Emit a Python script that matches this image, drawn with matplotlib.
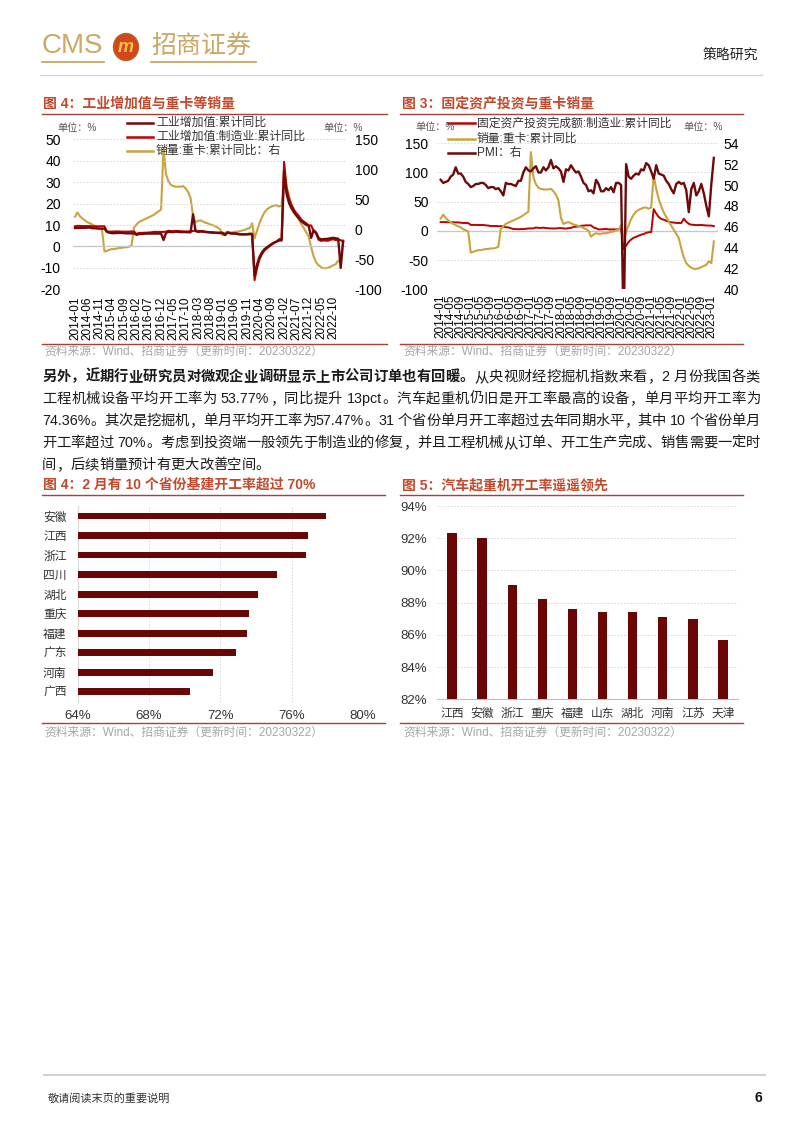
import matplotlib
matplotlib.use('Agg')
import matplotlib.pyplot as plt
from matplotlib.patches import Ellipse
from matplotlib.lines import Line2D

plt.rcParams['font.family'] = ['Liberation Sans', 'Noto Sans CJK SC', 'DejaVu Sans']
plt.rcParams['axes.unicode_minus'] = False

# ---------------- data ----------------
# monthly, 2014-01 .. 2023-02
iva = [8.6, 8.6, 8.7, 8.7, 8.7, 8.8, 8.8, 8.5, 8.5, 8.4, 8.3, 8.3,
       8.3, 6.8, 6.4, 6.2, 6.2, 6.3, 6.3, 6.3, 6.2, 6.1, 6.1, 6.1,
       6.1, 5.4, 5.8, 5.8, 5.9, 6.0, 6.0, 6.0, 6.0, 6.0, 6.0, 6.0,
       3.0, 6.3, 6.8, 6.7, 6.7, 6.9, 6.8, 6.7, 6.7, 6.7, 6.6, 6.6,
       15.0, 7.2, 6.8, 6.9, 6.9, 6.7, 6.6, 6.5, 6.4, 6.4, 6.3, 6.2,
       6.2, 5.3, 6.5, 6.2, 6.0, 6.0, 5.8, 5.6, 5.6, 5.6, 5.6, 5.7,
       5.7, -13.5, -8.4, -4.9, -2.8, -1.3, -0.4, 0.4, 1.2, 1.8, 2.3, 2.8,
       2.8, 35.1, 24.5, 20.3, 17.8, 15.9, 14.4, 13.1, 11.8, 10.9, 10.1, 9.6,
       4.0, 7.5, 6.5, 4.0, 3.3, 3.4, 3.5, 3.6, 3.9, 4.0, 3.8, 3.6,
       -10.0, 2.4]
mva = [9.4, 9.6, 9.6, 9.5, 9.5, 9.5, 9.5, 9.4, 9.4, 9.4, 9.4, 9.4,
       9.4, 7.0, 6.9, 6.9, 7.0, 7.0, 7.0, 6.9, 6.9, 6.9, 6.9, 7.0,
       7.0, 5.8, 6.3, 6.3, 6.4, 6.4, 6.5, 6.6, 6.8, 6.8, 6.8, 6.8,
       6.8, 6.9, 7.3, 7.2, 7.1, 7.2, 7.2, 7.1, 7.0, 7.0, 7.0, 7.2,
       7.2, 7.5, 7.1, 7.2, 7.2, 6.9, 6.8, 6.7, 6.6, 6.5, 6.4, 6.5,
       6.5, 5.6, 6.5, 6.1, 6.0, 6.2, 6.0, 5.8, 5.7, 5.7, 5.8, 6.0,
       6.0, -15.7, -10.2, -6.0, -3.6, -1.9, -0.9, 0.0, 0.9, 1.7, 2.3, 3.4,
       3.4, 39.5, 27.3, 22.2, 19.3, 17.1, 15.5, 14.2, 12.5, 11.6, 10.8, 9.8,
       9.8, 7.3, 6.2, 3.1, 2.6, 2.8, 2.7, 2.7, 3.2, 3.3, 3.0, 3.0,
       3.0, 2.1]
truck = [21, 28, 22, 18, 15, 12, 10, 8, 6, 3, 1, -1,
         -37, -36, -34, -33, -33, -32, -31, -31, -30, -30, -29, -27,
         3, 8, 12, 14, 16, 18, 20, 22, 24, 27, 30, 33,
         135, 92, 80, 74, 72, 71, 71, 71, 72, 68, 62, 52,
         22, 12, 14, 15, 13, 11, 10, 8, 7, 5, 3, 0,
         -10, -6, -4, -5, -5, -4, -4, -3, -2, -1, 1, 2,
         10, -15, -2, 10, 20, 28, 33, 36, 38, 40, 40, 38,
         40, 95, 72, 55, 42, 32, 24, 16, 9, 2, -5, -12,
         -30, -45, -55, -60, -63, -65, -65, -64, -62, -60, -58, -52,
         -55, -18]
fai = [15.1, 15.1, 15.0, 14.8, 14.8, 14.8, 14.6, 14.5, 14.0, 13.6, 13.5, 13.5,
       10.2, 10.2, 10.4, 10.0, 10.1, 10.1, 9.5, 9.1, 8.3, 8.3, 8.4, 8.1,
       8.1, 7.5, 6.4, 6.0, 4.6, 3.3, 3.1, 2.8, 3.1, 3.1, 3.6, 4.2,
       4.2, 4.3, 5.8, 5.2, 5.1, 5.5, 4.9, 4.5, 4.2, 4.1, 4.1, 4.8,
       4.8, 4.3, 3.8, 4.8, 5.2, 6.8, 7.3, 7.5, 8.7, 9.1, 9.5, 9.5,
       9.5, 5.9, 4.6, 2.5, 2.7, 3.0, 3.3, 2.6, 2.5, 2.6, 2.5, 3.1,
       3.1, -31.5, -25.2, -18.8, -14.8, -11.7, -10.2, -8.1, -6.5, -5.3, -3.5, -2.2,
       -2.2, 37.3, 29.8, 23.8, 20.4, 19.2, 17.3, 15.7, 14.8, 14.2, 13.7, 13.5,
       13.5, 20.9, 15.6, 12.2, 10.6, 10.4, 9.9, 10.0, 10.1, 9.7, 9.3, 9.1,
       9.1, 8.1]
pmi = [50.5, 50.2, 50.3, 50.4, 50.8, 51.0, 51.7, 51.1, 51.1, 50.8, 50.3, 50.1,
       49.8, 49.9, 50.1, 50.1, 50.2, 50.2, 50.0, 49.7, 49.8, 49.8, 49.6, 49.7,
       49.4, 49.0, 50.2, 50.1, 50.1, 50.0, 49.9, 50.4, 50.4, 51.2, 51.7, 51.4,
       51.3, 51.6, 51.8, 51.2, 51.2, 51.7, 51.4, 51.7, 52.4, 51.6, 51.8, 51.6,
       51.3, 50.3, 51.5, 51.4, 51.9, 51.5, 51.2, 51.3, 50.8, 50.2, 50.0, 49.4,
       49.5, 49.2, 50.5, 50.1, 49.4, 49.4, 49.7, 49.5, 49.8, 49.3, 50.2, 50.2,
       50.0, 35.7, 52.0, 50.8, 50.6, 50.9, 51.1, 51.0, 51.5, 51.4, 52.1, 51.9,
       51.3, 50.6, 51.9, 51.1, 51.0, 50.9, 50.4, 50.1, 49.6, 49.2, 50.1, 50.3,
       50.1, 50.2, 49.5, 47.4, 49.6, 50.2, 49.0, 49.4, 50.1, 49.2, 48.0, 47.0,
       50.1, 52.6]

prov_infra = ['安徽', '江西', '浙江', '四川', '湖北', '重庆', '福建', '广东', '河南', '广西']
rate_infra = [77.9, 76.9, 76.8, 75.2, 74.1, 73.6, 73.5, 72.9, 71.6, 70.3]
prov_crane = ['江西', '安徽', '浙江', '重庆', '福建', '山东', '湖北', '河南', '江苏', '天津']
rate_crane = [92.3, 92.0, 89.1, 88.2, 87.6, 87.4, 87.4, 87.1, 87.0, 85.7]

months = ['%d-%02d' % (2014 + i // 12, i % 12 + 1) for i in range(len(iva))]

# ---------------- layout helpers ----------------
W, H = 802, 1133
fig = plt.figure(figsize=(W / 100, H / 100), dpi=100)


def rect(x0, y0, x1, y1):
    return [x0 / W, 1 - y1 / H, (x1 - x0) / W, (y1 - y0) / H]


def fx(x):
    return x / W


def fy(y):
    return 1 - y / H


def hline(x0, x1, y, color, lw):
    fig.add_artist(Line2D([fx(x0), fx(x1)], [fy(y), fy(y)],
                          transform=fig.transFigure, color=color, lw=lw))


def ftext(x, y, s, **kw):
    kw.setdefault('va', 'center')
    kw.setdefault('ha', 'left')
    return fig.text(fx(x), fy(y), s, **kw)


DARK = '#6E0A0A'
RED = '#C00000'
GOLD = '#C9A43E'
BAR = '#6A0606'
TITLE = '#C4492C'
RULE = '#A8403A'
SRC = '#A6A6A6'
GRID = '#D4D4D4'

# ---------------- header ----------------
GOLDH = '#CDA766'
ftext(42, 46, 'CMS', fontsize=20, color=GOLDH)
hline(42, 104, 62, GOLDH, 1.3)
fig.add_artist(Ellipse((fx(126), fy(47)), 25 / W, 27 / H, transform=fig.transFigure,
                       facecolor='#D4471E', edgecolor='#B5651D', lw=1.0))
ftext(126, 47, 'm', fontsize=13, color='#F6C543', weight='bold', style='italic', ha='center')
ftext(151, 46, '招商证券', fontsize=18, color=GOLDH)
hline(151, 256, 62, GOLDH, 1.3)
ftext(758, 55, '策略研究', fontsize=10, color='#222222', ha='right')
hline(40, 762, 75, '#DCD2C8', 1.0)

# ---------------- titles and rules ----------------
title_kw = dict(fontsize=10, weight='bold', color=TITLE)
ftext(43, 104, '图 4：工业增加值与重卡等销量', **title_kw)
ftext(402, 104, '图 3：固定资产投资与重卡销量', **title_kw)
ftext(43, 485, '图 4：2 月有 10 个省份基建开工率超过 70%', **title_kw)
ftext(402, 485, '图 5：汽车起重机开工率遥遥领先', **title_kw)
hline(42, 387, 114, RULE, 1.0)
hline(400, 743, 114, RULE, 1.0)
hline(42, 385, 495, RULE, 1.0)
hline(400, 743, 495, RULE, 1.0)
hline(42, 387, 344, RULE, 1.0)
hline(400, 743, 344, RULE, 1.0)
hline(42, 385, 723, RULE, 1.0)
hline(400, 743, 723, RULE, 1.0)
src = '资料来源：Wind、招商证券（更新时间：20230322）'
for x, y in [(44, 352), (403, 352), (44, 733), (403, 733)]:
    ftext(x, y, src, fontsize=8.5, color=SRC)

unit_kw = dict(fontsize=7.3, color='#555555')
ftext(57, 128, '单位：%', **unit_kw)
ftext(323, 128, '单位：%', **unit_kw)
ftext(415, 127, '单位：%', **unit_kw)
ftext(683, 127, '单位：%', **unit_kw)

# ---------------- chart 1 ----------------
x = list(range(len(iva)))
ax1 = fig.add_axes(rect(72.5, 139.3, 345.6, 289.3))
ax1r = ax1.twinx()
ax1.set_zorder(ax1r.get_zorder() + 1)
ax1.patch.set_visible(False)
ax1r.plot(x, truck, color=GOLD, lw=1.5)
ax1.plot(x, mva, color=RED, lw=1.5)
ax1.plot(x, iva, color=DARK, lw=1.7)
ax1.set_xlim(-1, 110)
ax1.set_ylim(-20, 50)
ax1r.set_ylim(-100, 150)
ax1.set_yticks(range(-20, 51, 10))
ax1r.set_yticks(range(-100, 151, 50))
ax1.set_xticks(x[::5])
ax1.set_xticklabels(months[::5], rotation=90, fontsize=8.5)
for a in (ax1, ax1r):
    for s in a.spines.values():
        s.set_visible(False)
ax1.tick_params(axis='y', length=0, pad=8.5, labelsize=10)
ax1r.tick_params(axis='y', length=0, pad=6.5, labelsize=10)
ax1.tick_params(axis='x', length=0, pad=5)
ax1.grid(axis='y', color=GRID, lw=0.6, ls=(0, (2, 2)))
ax1.axhline(0, color='#BFBFBF', lw=0.9, zorder=0.5)

# legend 1
for yy, c, lab in [(123, DARK, '工业增加值:累计同比'), (137, RED, '工业增加值:制造业:累计同比'),
                   (150.5, GOLD, '销量:重卡:累计同比：右')]:
    hline(127, 153, yy, c, 1.8)
    ftext(156, yy, lab, fontsize=8.6, color='#333333')

# ---------------- chart 2 ----------------
ax2 = fig.add_axes(rect(436.9, 143.3, 717.6, 289.3))
ax2r = ax2.twinx()
ax2.plot(x, fai, color=RED, lw=1.4)
ax2.plot(x, truck, color=GOLD, lw=1.5)
ax2r.plot(x, pmi, color=DARK, lw=1.7)
ax2.set_xlim(-1.5, 110.5)
ax2.set_ylim(-100, 150)
ax2r.set_ylim(40, 54)
ax2.set_yticks(range(-100, 151, 50))
ax2r.set_yticks(range(40, 55, 2))
ax2.set_xticks(x[::4])
ax2.set_xticklabels(months[::4], rotation=90, fontsize=8.5)
for a in (ax2, ax2r):
    for s in a.spines.values():
        s.set_visible(False)
ax2.tick_params(axis='y', length=0, pad=6, labelsize=10)
ax2r.tick_params(axis='y', length=0, pad=4, labelsize=10)
ax2.tick_params(axis='x', length=0, pad=4)
ax2.grid(axis='y', color=GRID, lw=0.6, ls=(0, (2, 2)))
ax2.axhline(0, color='#BFBFBF', lw=0.9, zorder=0.5)

for yy, c, lab in [(123.3, RED, '固定资产投资完成额:制造业:累计同比'), (139, GOLD, '销量:重卡:累计同比'),
                   (153.3, DARK, 'PMI：右')]:
    hline(448, 475, yy, c, 1.8)
    ftext(477, yy, lab, fontsize=8.5, color='#333333')

# ---------------- chart 3 ----------------
ax3 = fig.add_axes(rect(77.7, 506.2, 363, 701.5))
pos3 = list(range(len(prov_infra)))
ax3.barh(pos3, rate_infra, height=0.35, color=BAR, left=0, zorder=3)
ax3.set_xlim(64, 80)
ax3.set_ylim(9.5, -0.5)
ax3.set_yticks(pos3)
ax3.set_yticklabels(prov_infra, fontsize=8.5, color='#333333')
ax3.set_xticks([64, 68, 72, 76, 80])
ax3.set_xticklabels(['64%', '68%', '72%', '76%', '80%'], fontsize=9.5, color='#333333')
for s in ax3.spines.values():
    s.set_visible(False)
ax3.spines['left'].set_visible(True)
ax3.spines['left'].set_color('#D9D9D9')
ax3.tick_params(axis='y', length=0, pad=8)
ax3.tick_params(axis='x', length=0, pad=6)
ax3.grid(axis='x', color=GRID, lw=0.6, ls=(0, (2, 2)))

# ---------------- chart 4 ----------------
ax4 = fig.add_axes(rect(437, 506, 738, 699.3))
pos4 = list(range(len(prov_crane)))
ax4.bar(pos4, rate_crane, width=0.31, color=BAR, zorder=3)
ax4.set_xlim(-0.5, 9.5)
ax4.set_ylim(82, 94)
ax4.set_yticks(range(82, 95, 2))
ax4.set_yticklabels(['%d%%' % v for v in range(82, 95, 2)], fontsize=9.5, color='#333333')
ax4.set_xticks(pos4)
ax4.set_xticklabels(prov_crane, fontsize=8.5, color='#333333')
for s in ax4.spines.values():
    s.set_visible(False)
ax4.spines['bottom'].set_visible(True)
ax4.spines['bottom'].set_color('#BFBFBF')
ax4.tick_params(axis='y', length=0, pad=7.5)
ax4.tick_params(axis='x', length=0, pad=6)
ax4.grid(axis='y', color=GRID, lw=0.6, ls=(0, (2, 2)))

# ---------------- paragraph ----------------
renderer = fig.canvas.get_renderer()


def justified(y, segments, x0, x1, justify=True, fs=10.3):
    tokens = []
    for text, wt in segments:
        buf = ''
        for ch in text:
            if ord(ch) < 128 and ch != ' ':
                buf += ch
            else:
                if buf:
                    tokens.append((buf, wt))
                    buf = ''
                tokens.append((ch, wt))
        if buf:
            tokens.append((buf, wt))
    arts, widths = [], []
    for tok, wt in tokens:
        if tok == ' ':
            arts.append(None)
            widths.append(fs * 100 / 72 * 0.28)
            continue
        t = ftext(0, y, tok, fontsize=fs, weight=wt, color='#1A1A1A')
        arts.append(t)
        widths.append(t.get_window_extent(renderer).width)
    total = sum(widths)
    gap = (x1 - x0 - total) / (len(tokens) - 1) if justify else 0.0
    xx = x0
    for a, w in zip(arts, widths):
        if a is not None:
            a.set_x(fx(xx))
        xx += w + gap


para = [
    [('另外，近期行业研究员对微观企业调研显示上市公司订单也有回暖。', 'bold'),
     ('从央视财经挖掘机指数来看，2 月份我国各类', 'normal')],
    [('工程机械设备平均开工率为 53.77%，同比提升 13pct。汽车起重机仍旧是开工率最高的设备，单月平均开工率为', 'normal')],
    [('74.36%。其次是挖掘机，单月平均开工率为57.47%。31 个省份单月开工率超过去年同期水平，其中 10 个省份单月', 'normal')],
    [('开工率超过 70%。考虑到投资端一般领先于制造业的修复，并且工程机械从订单、开工生产完成、销售需要一定时', 'normal')],
    [('间，后续销量预计有更大改善空间。', 'normal')],
]
for i, segs in enumerate(para):
    justified(377 + 22 * i, segs, 42, 760, justify=(i < len(para) - 1))

# ---------------- footer ----------------
hline(44, 765, 1075, '#D0D0D0', 1.4)
ftext(48, 1098, '敬请阅读末页的重要说明', fontsize=8, color='#333333')
ftext(762, 1098, '6', fontsize=10, weight='bold', color='#111111', ha='right')

fig.savefig('out.png', dpi=100)
